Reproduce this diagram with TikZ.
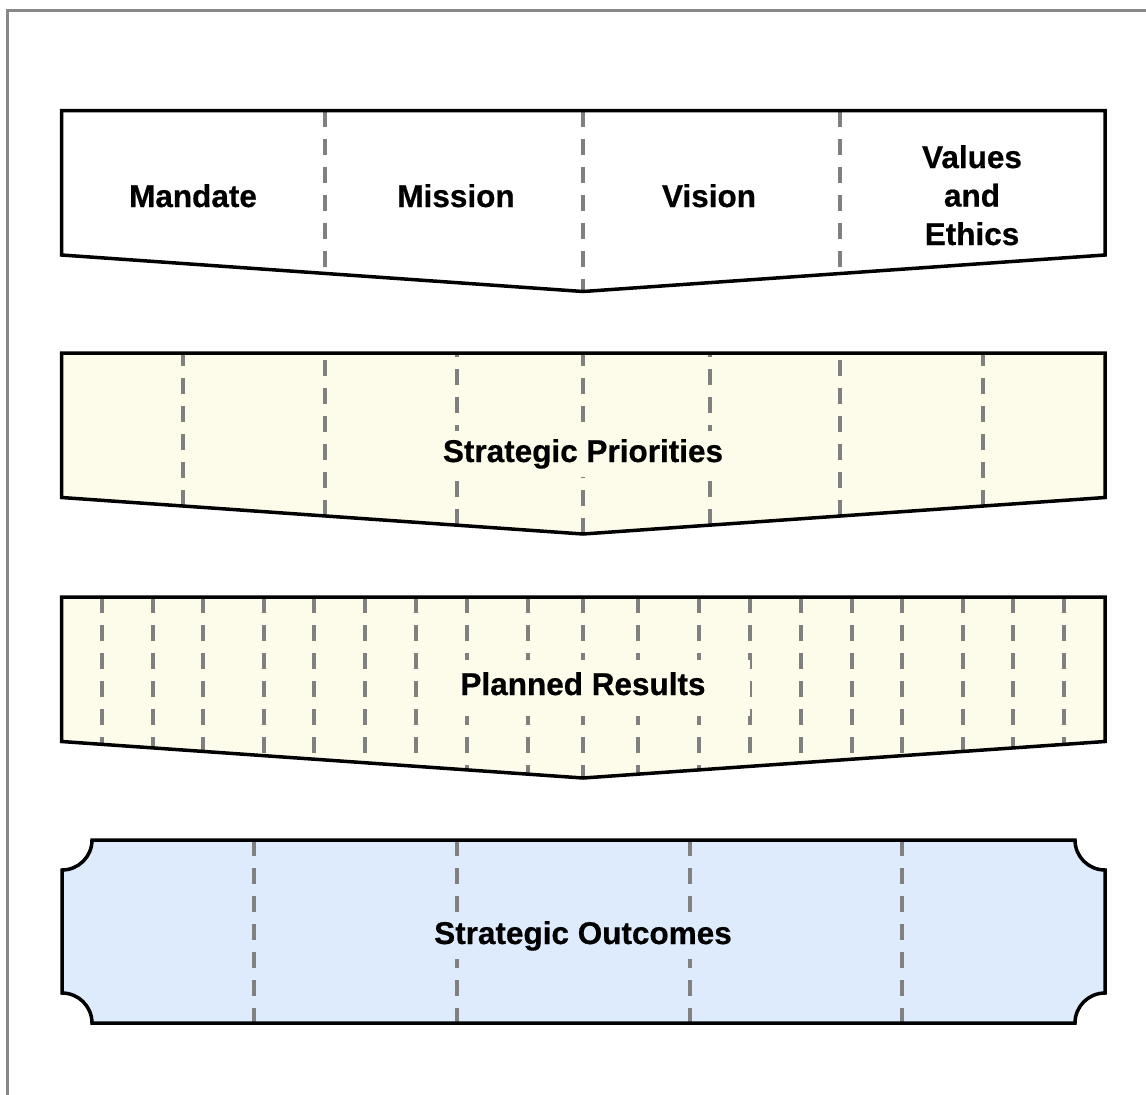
\documentclass[tikz,border=0pt]{standalone}
\usepackage{fontspec}
\setmainfont{Liberation Sans}[BoldFeatures={FakeBold=0.6}]
\definecolor{cream}{HTML}{FDFCEB}
\definecolor{paleblue}{HTML}{DEEBFC}
\definecolor{framegray}{HTML}{888888}
\definecolor{dashgray}{HTML}{808080}

\begin{document}
\begin{tikzpicture}[x=1pt,y=-1pt,
  outline/.style={draw=black,line width=3.5pt,line join=miter},
  divider/.style={draw=dashgray,line width=4pt,dash pattern=on 16pt off 12pt},
  lbl/.style={font=\fontsize{31.5}{38.5}\selectfont\bfseries,inner sep=0pt,align=center},
  % downward-pointing banner whose top edge lies at #1
  chev/.style={insert path={(61.5,#1) -- (1105,#1) -- (1105,#1+144.5)
      -- (583,#1+181) -- (61.5,#1+144.5) -- cycle}},
  % banner with concave (scalloped) corners
  ticket/.style={insert path={(92,840) -- (1075,840)
      arc[start angle=180,end angle=90,radius=30] -- (1105,993)
      arc[start angle=270,end angle=180,radius=30] -- (92,1023)
      arc[start angle=0,end angle=-90,radius=30] -- (62,870)
      arc[start angle=90,end angle=0,radius=30] -- cycle}},
]
\useasboundingbox (0,0) rectangle (1146,1095);
\fill[white] (0,0) rectangle (1146,1095);

% outer frame (top and left edges)
\draw[framegray,line width=3pt] (7.5,1100) -- (7.5,10) -- (1150,10);

% --- Mandate / Mission / Vision / Values band
\fill[white][chev=110.5];
\begin{scope}
  \clip[chev=110.5];
  \foreach \x in {325,583,840} \draw[divider] (\x,110.5) -- (\x,300);
\end{scope}
\draw[outline][chev=110.5];

% --- Strategic Priorities band (dividers run up from the lower edge)
\fill[cream][chev=353];
\begin{scope}
  \clip[chev=353];
  \foreach \x in {183,325,457,583,710,840,983}{
    \pgfmathsetmacro\yb{353+144.5+36.5*(1-abs(\x-583)/521.5)}
    \draw[divider] (\x,\yb) -- (\x,345);
  }
\end{scope}
\draw[outline][chev=353];

% --- Planned Results band
\fill[cream][chev=597];
\begin{scope}
  \clip[chev=597];
  \foreach \x in {102,153,203,264,314,365,416,467,528,583,638,699,750,801,852,902,963,1013,1064}
    \draw[divider] (\x,597) -- (\x,785);
\end{scope}
\draw[outline][chev=597];

% --- Strategic Outcomes band
\fill[paleblue][ticket];
\begin{scope}
  \clip[ticket];
  \foreach \x in {254,457,690,902} \draw[divider] (\x,840) -- (\x,1030);
\end{scope}
\draw[outline][ticket];

% --- labels
\node[lbl,anchor=base] (mandate) at (193,207) {Mandate};
\node[lbl,anchor=base] (mission) at (456,207) {Mission};
\node[lbl,anchor=base] (vision) at (709,207) {Vision};
\node[lbl,anchor=base] (values) at (972,245) {Values\\and\\Ethics};

\node[lbl,anchor=base,fill=cream,inner xsep=6pt,inner ysep=8pt] (priorities)
  at (583,462) {Strategic Priorities};

\node[fill=cream,minimum width=300pt,minimum height=56pt,inner sep=0pt] (resultsbg)
  at (600,688) {};
\node[lbl,anchor=base] (results) at (583,695) {Planned Results};

\node[lbl,anchor=base,fill=paleblue,inner xsep=8pt,inner ysep=8pt] (outcomes)
  at (583,944) {Strategic Outcomes};
\end{tikzpicture}
\end{document}
